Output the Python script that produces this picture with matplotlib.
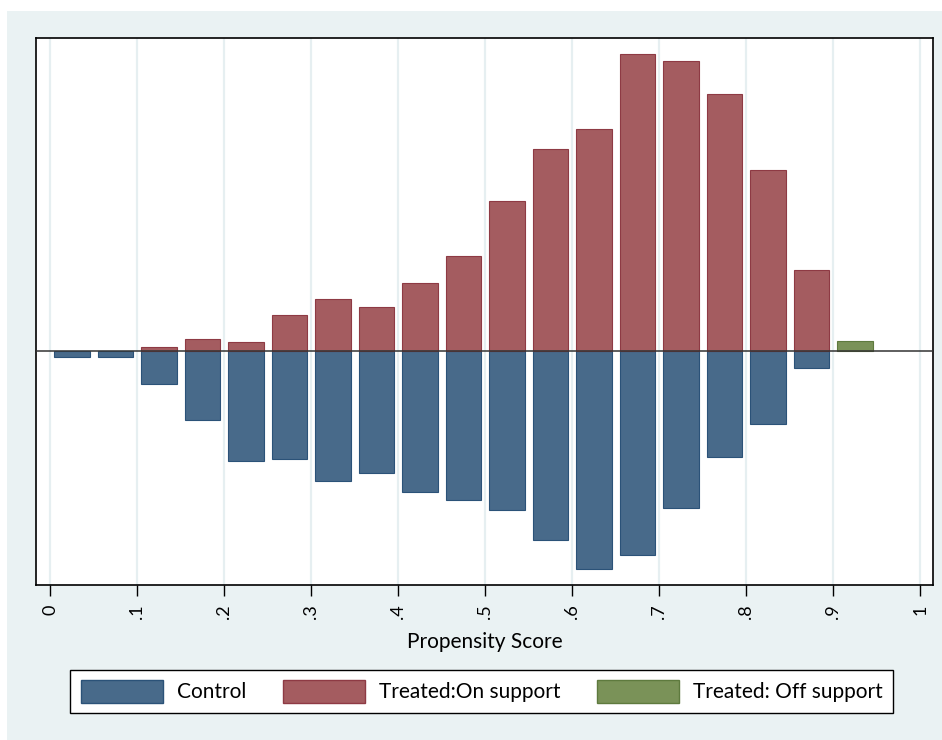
import numpy as np
import matplotlib
matplotlib.use('Agg')
import matplotlib.pyplot as plt
from matplotlib.patches import Patch

plt.rcParams['font.family'] = ['Lato', 'DejaVu Sans']

# bin centres of the propensity score histogram (bin width .05)
bins = [0.025, 0.075, 0.125, 0.175, 0.225, 0.275, 0.325, 0.375, 0.425,
        0.475, 0.525, 0.575, 0.625, 0.675, 0.725, 0.775, 0.825, 0.875]
control = [0.057, 0.057, 0.327, 0.69, 1.103, 1.083, 1.303, 1.22, 1.407,
           1.493, 1.59, 1.893, 2.183, 2.037, 1.57, 1.063, 0.73, 0.167]
treated_on = [0.0, 0.0, 0.037, 0.117, 0.09, 0.357, 0.517, 0.443, 0.68,
              0.953, 1.497, 2.023, 2.217, 2.97, 2.897, 2.57, 1.813, 0.81]
off_bins = [0.925]
treated_off = [0.103]

ticks = [0, .1, .2, .3, .4, .5, .6, .7, .8, .9, 1]
tick_labels = ['0', '.1', '.2', '.3', '.4', '.5', '.6', '.7', '.8', '.9', '1']

c_ctrl = '#486a8a'
c_on = '#a45c60'
c_off = '#7a9258'

fig = plt.figure(figsize=(9.42, 7.40), dpi=100)
fig.patch.set_facecolor('white')
# light outer background (Stata graph region)
bg = fig.add_axes([7/942, 0, 1 - 7/942, 1 - 11/740], zorder=-5)
bg.set_facecolor('#eaf2f3')
bg.set_xticks([])
bg.set_yticks([])
for s in bg.spines.values():
    s.set_visible(False)

ax = fig.add_axes([36/942, (740-585.3)/740, (933-36)/942, (585.3-38)/740])
ax.set_facecolor('white')

for x in ticks:
    ax.axvline(x, color='#e6eff1', lw=1.6, zorder=0)

w = 0.0405
ax.bar(bins, [-v for v in control], width=w, color=c_ctrl, edgecolor='#2b5278', lw=0.8, zorder=2)
on_idx = [i for i, v in enumerate(treated_on) if v > 0]
ax.bar([bins[i] for i in on_idx], [treated_on[i] for i in on_idx], width=w,
       color=c_on, edgecolor='#8e3a44', lw=0.8, zorder=2)
ax.bar(off_bins, treated_off, width=w, color=c_off, edgecolor='#5e7a3e', lw=0.8, zorder=2)
ax.axhline(0, color='#333333', lw=1.1, zorder=3)

ax.set_xlim((36-50.3)/870, (933-50.3)/870)
ax.set_ylim(-2.343, 3.13)
ax.set_yticks([])
ax.set_xticks(ticks)
ax.set_xticklabels(tick_labels, rotation=90, fontsize=13)
ax.tick_params(axis='x', length=8, width=1, pad=6)
for s in ax.spines.values():
    s.set_linewidth(1.2)
    s.set_color('black')
ax.set_xlabel('Propensity Score', fontsize=15, labelpad=9)

handles = [Patch(facecolor=c_ctrl, edgecolor='#2b5278', label='Control'),
           Patch(facecolor=c_on, edgecolor='#8e3a44', label='Treated:On support'),
           Patch(facecolor=c_off, edgecolor='#5e7a3e', label='Treated: Off support')]
leg = fig.legend(handles=handles, ncol=3, loc='center',
                 bbox_to_anchor=((70+893)/2/942, 1 - 691.5/740),
                 fontsize=15, handlelength=3.94, handleheight=1.3,
                 handletextpad=0.67, columnspacing=1.75, fancybox=False,
                 frameon=True, framealpha=1, borderpad=0.5)
leg.get_frame().set_edgecolor('black')
leg.get_frame().set_linewidth(1.0)

fig.savefig('out.png', dpi=100)
